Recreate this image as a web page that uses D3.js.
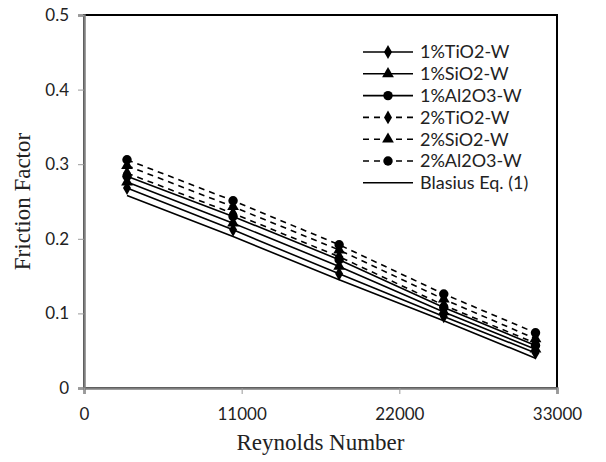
<!DOCTYPE html>
<html>
<head>
<meta charset="utf-8">
<script src="https://cdn.jsdelivr.net/npm/d3@7"></script>
<style>
  html, body { margin: 0; padding: 0; background: #fff; }
  svg { display: block; }
</style>
</head>
<body>
<svg id="chart" width="606" height="462"></svg>
<script>
// Reynolds numbers of the measured runs
const reynolds = [3000, 10400, 17800, 25100, 31500];

// Friction factor per fluid
const tio2_1 = [0.268, 0.212, 0.153, 0.096, 0.047];
const sio2_1 = [0.276, 0.221, 0.163, 0.102, 0.052];
const al2o3_1 = [0.284, 0.230, 0.172, 0.108, 0.057];
const tio2_2 = [0.288, 0.234, 0.176, 0.111, 0.060];
const sio2_2 = [0.298, 0.243, 0.185, 0.119, 0.066];
const al2o3_2 = [0.306, 0.251, 0.192, 0.126, 0.074];
const blasius = [0.258, 0.203, 0.145, 0.090, 0.040];

const seriesNames = ["1%TiO2-W", "1%SiO2-W", "1%Al2O3-W", "2%TiO2-W", "2%SiO2-W", "2%Al2O3-W", "Blasius Eq. (1)"];
const xTicks = [0, 11000, 22000, 33000];
const yTicks = [0, 0.1, 0.2, 0.3, 0.4, 0.5];

const series = [
  { name: seriesNames[0], values: tio2_1, marker: "diamond", dashed: false },
  { name: seriesNames[1], values: sio2_1, marker: "triangle", dashed: false },
  { name: seriesNames[2], values: al2o3_1, marker: "circle", dashed: false },
  { name: seriesNames[3], values: tio2_2, marker: "diamond", dashed: true },
  { name: seriesNames[4], values: sio2_2, marker: "triangle", dashed: true },
  { name: seriesNames[5], values: al2o3_2, marker: "circle", dashed: true },
  { name: seriesNames[6], values: blasius, marker: null, dashed: false }
];

const svg = d3.select("#chart");
const plot = { left: 84, right: 557, top: 15, bottom: 388 };

const x = d3.scaleLinear().domain([0, 33000]).range([plot.left, plot.right]);
const y = d3.scaleLinear().domain([0, 0.5]).range([plot.bottom, plot.top]);

const symbolFor = {
  diamond: d3.symbol().type(d3.symbolDiamond).size(55),
  triangle: d3.symbol().type(d3.symbolTriangle).size(60),
  circle: d3.symbol().type(d3.symbolCircle).size(70)
};

// plot frame: black top/right, grey axes left/bottom
svg.append("rect")
  .attr("x", plot.left).attr("y", plot.top)
  .attr("width", plot.right - plot.left).attr("height", plot.bottom - plot.top)
  .attr("fill", "none").attr("stroke", "#000").attr("stroke-width", 2);

const tickFont = "Lato, 'Open Sans', sans-serif";
const titleFont = "'Liberation Serif', 'Times New Roman', serif";

const yAxis = svg.append("g")
  .attr("transform", `translate(${plot.left},0)`)
  .call(d3.axisLeft(y).tickValues(yTicks).tickSize(6).tickPadding(9)
    .tickFormat(d => d === 0 ? "0" : d3.format(".1f")(d)));
yAxis.select(".domain").attr("stroke", "#7f7f7f").attr("stroke-width", 2.5);
yAxis.selectAll(".tick line").attr("stroke", "#9a9a9a");
yAxis.selectAll("text").attr("font-family", tickFont).attr("font-size", 17).attr("fill", "#222");

const xAxis = svg.append("g")
  .attr("transform", `translate(0,${plot.bottom})`)
  .call(d3.axisBottom(x).tickValues(xTicks).tickSize(6).tickPadding(14).tickFormat(d3.format("d")));
xAxis.select(".domain").attr("stroke", "#7f7f7f").attr("stroke-width", 2.5);
xAxis.selectAll(".tick line").attr("stroke", "#9a9a9a");
xAxis.selectAll("text").attr("font-family", tickFont).attr("font-size", 17).attr("fill", "#222");

// axis titles
svg.append("text")
  .attr("x", (plot.left + plot.right) / 2).attr("y", 450)
  .attr("text-anchor", "middle")
  .attr("font-family", titleFont)
  .attr("font-size", 23).attr("fill", "#222")
  .text("Reynolds Number");

svg.append("text")
  .attr("transform", `translate(30,${(plot.top + plot.bottom) / 2}) rotate(-90)`)
  .attr("text-anchor", "middle")
  .attr("font-family", titleFont)
  .attr("font-size", 23).attr("fill", "#222")
  .text("Friction Factor");

// series lines and markers
const line = d3.line().x((d, i) => x(reynolds[i])).y(d => y(d));

series.forEach(s => {
  svg.append("path")
    .datum(s.values)
    .attr("d", line)
    .attr("fill", "none")
    .attr("stroke", "#000")
    .attr("stroke-width", 1.6)
    .attr("stroke-dasharray", s.dashed ? "6,5" : null);
});

series.filter(s => s.marker).forEach(s => {
  svg.append("g").selectAll("path")
    .data(s.values)
    .join("path")
    .attr("transform", (d, i) => `translate(${x(reynolds[i])},${y(d)})`)
    .attr("d", symbolFor[s.marker])
    .attr("fill", "#000");
});

// legend
const legend = svg.append("g").attr("transform", "translate(363,52)");
const rowGap = 21.8;
series.forEach((s, i) => {
  const row = legend.append("g").attr("transform", `translate(0,${i * rowGap})`);
  row.append("line")
    .attr("x1", 0).attr("x2", 50).attr("y1", 0).attr("y2", 0)
    .attr("stroke", "#000").attr("stroke-width", 1.6)
    .attr("stroke-dasharray", s.dashed ? "6,5" : null);
  if (s.marker) {
    row.append("path")
      .attr("transform", "translate(25,0)")
      .attr("d", symbolFor[s.marker])
      .attr("fill", "#000");
  }
  row.append("text")
    .attr("x", 57).attr("y", 0).attr("dy", "0.35em")
    .attr("font-family", tickFont).attr("font-size", 18).attr("fill", "#222")
    .text(s.name);
});
</script>
</body>
</html>
